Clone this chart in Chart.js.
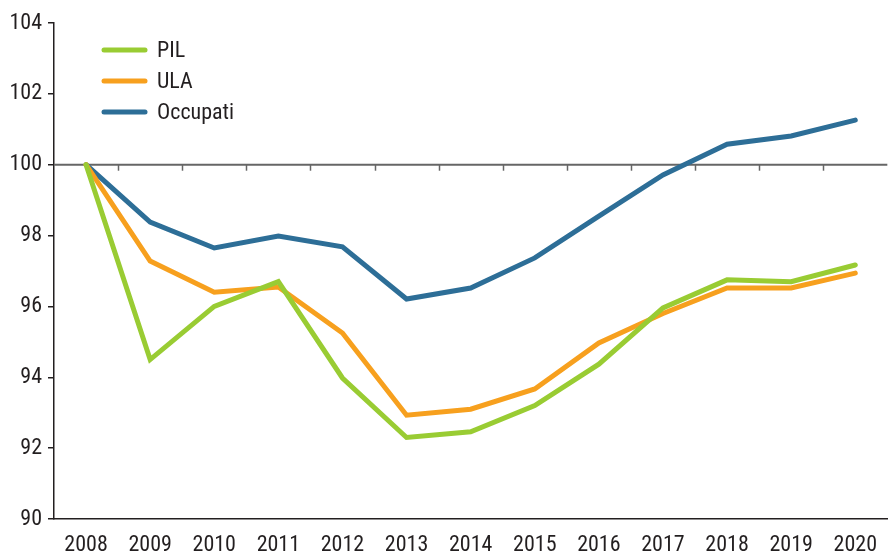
<!DOCTYPE html>
<html>
<head>
<meta charset="utf-8">
<script src="https://cdn.jsdelivr.net/npm/chart.js@4/dist/chart.umd.min.js"></script>
<style>
  html, body { margin: 0; padding: 0; background: #fff; }
  #wrap { width: 890px; height: 552px; }
</style>
</head>
<body>
<div id="wrap"><canvas id="chart"></canvas></div>
<script>
const years = ["2008", "2009", "2010", "2011", "2012", "2013", "2014", "2015", "2016", "2017", "2018", "2019", "2020"];
const pil = [100, 94.5, 96.0, 96.7, 93.98, 92.3, 92.46, 93.2, 94.37, 95.96, 96.75, 96.7, 97.17];
const ula = [100, 97.28, 96.4, 96.55, 95.25, 92.93, 93.1, 93.67, 94.97, 95.8, 96.52, 96.52, 96.94];
const occupati = [100, 98.38, 97.65, 97.99, 97.68, 96.21, 96.52, 97.37, 98.55, 99.71, 100.58, 100.81, 101.26];
const yTicks = [90, 92, 94, 96, 98, 100, 102, 104];

const FONT = "'Liberation Sans Narrow', 'Roboto Condensed', 'Liberation Sans', sans-serif";
const TEXT = "#231f20";

// base line at 100 with tick marks between years, plus the legend inside the plot
const overlay = {
    id: "overlay",
    beforeDatasetsDraw(chart) {
        const ctx = chart.ctx;
        const x = chart.scales.x;
        const y = chart.scales.y;
        const area = chart.chartArea;
        const y100 = y.getPixelForValue(100);
        ctx.save();
        ctx.strokeStyle = "#666";
        ctx.lineWidth = 2;
        ctx.beginPath();
        ctx.moveTo(area.left, y100);
        ctx.lineTo(area.right, y100);
        ctx.stroke();
        ctx.lineWidth = 1.5;
        for (let i = 0; i < years.length - 1; i++) {
            const bx = Math.round((x.getPixelForValue(i) + x.getPixelForValue(i + 1)) / 2) + 0.5;
            ctx.beginPath();
            ctx.moveTo(bx, y100);
            ctx.lineTo(bx, y100 + 6);
            ctx.stroke();
        }
        ctx.restore();
    },
    afterDatasetsDraw(chart) {
        const ctx = chart.ctx;
        ctx.save();
        ctx.font = "22px " + FONT;
        ctx.textBaseline = "middle";
        chart.data.datasets.forEach((ds, i) => {
            const ly = 50 + i * 31;
            ctx.strokeStyle = ds.borderColor;
            ctx.lineWidth = 5;
            ctx.lineCap = "round";
            ctx.beginPath();
            ctx.moveTo(104, ly);
            ctx.lineTo(145, ly);
            ctx.stroke();
            ctx.fillStyle = TEXT;
            ctx.fillText(ds.label, 157, ly + 1);
        });
        ctx.restore();
    }
};

new Chart(document.getElementById("chart"), {
    type: "line",
    data: {
        labels: years,
        datasets: [
            { label: "PIL", data: pil, borderColor: "#99cc33" },
            { label: "ULA", data: ula, borderColor: "#f7a01e" },
            { label: "Occupati", data: occupati, borderColor: "#2d6e97" }
        ]
    },
    options: {
        responsive: true,
        maintainAspectRatio: false,
        animation: false,
        devicePixelRatio: 1,
        layout: { padding: { top: 23, right: -11, left: 0, bottom: 0 } },
        elements: {
            line: { borderWidth: 5, tension: 0, borderJoinStyle: "miter", borderCapStyle: "round" },
            point: { radius: 0, hoverRadius: 0 }
        },
        plugins: {
            legend: { display: false },
            tooltip: { enabled: false }
        },
        scales: {
            x: {
                offset: true,
                grid: { display: false, drawTicks: false },
                border: { display: true, color: TEXT, width: 1.5 },
                ticks: { color: TEXT, font: { family: FONT, size: 22 }, padding: 13, maxRotation: 0, autoSkip: false },
                afterFit(scale) { scale.height = 33; }
            },
            y: {
                min: 90,
                max: 104,
                afterBuildTicks(scale) { scale.ticks = yTicks.map(v => ({ value: v })); },
                grid: { display: true, drawOnChartArea: false, drawTicks: true, tickLength: 6, color: TEXT, lineWidth: 1.5 },
                border: { display: true, color: TEXT, width: 1.5 },
                ticks: { color: TEXT, font: { family: FONT, size: 22 }, padding: 6 },
                afterFit(scale) { scale.width = 54; }
            }
        }
    },
    plugins: [overlay]
});
</script>
</body>
</html>
